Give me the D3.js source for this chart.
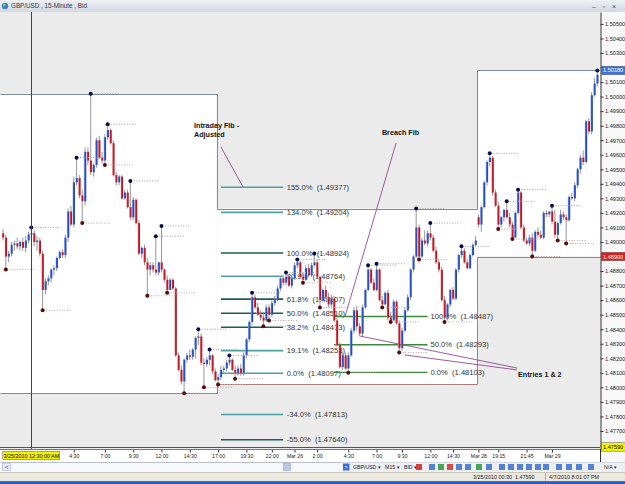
<!DOCTYPE html>
<html>
<head>
<meta charset="utf-8">
<script src="https://cdn.jsdelivr.net/npm/d3@7"></script>
<style>
  body { margin: 0; background: #ffffff; }
  svg { display: block; font-family: "Liberation Sans", Arial, sans-serif; }
</style>
</head>
<body>
<div id="chart"></div>
<script>
// GBP/USD 15-minute bars, bar 0 = 3/24/2010 22:00
const opens = [
  1.4906,1.4903,1.4890,1.4892,1.4898,1.4899,1.4897,1.4900,1.4896,1.4901,
  1.4905,1.4906,1.4900,1.4901,1.4892,1.4867,1.4873,1.4875,1.4881,1.4882,
  1.4889,1.4893,1.4891,1.4903,1.4921,1.4912,1.4941,1.4944,1.4932,1.4928,
  1.4962,1.4956,1.4948,1.4953,1.4970,1.4958,1.4956,1.4972,1.4977,1.4968,
  1.4946,1.4941,1.4945,1.4930,1.4934,1.4924,1.4917,1.4929,1.4913,1.4892,
  1.4896,1.4886,1.4881,1.4884,1.4881,1.4879,1.4886,1.4881,1.4874,1.4867,
  1.4874,1.4868,1.4822,1.4812,1.4804,1.4819,1.4822,1.4821,1.4826,1.4834,
  1.4835,1.4817,1.4816,1.4819,1.4822,1.4811,1.4805,1.4807,1.4812,1.4813,
  1.4817,1.4819,1.4812,1.4810,1.4813,1.4810,1.4822,1.4833,1.4845,1.4862,
  1.4855,1.4850,1.4848,1.4846,1.4855,1.4850,1.4858,1.4860,1.4868,1.4875,
  1.4872,1.4876,1.4870,1.4875,1.4884,1.4886,1.4876,1.4874,1.4882,1.4877,
  1.4884,1.4886,1.4876,1.4860,1.4867,1.4862,1.4857,1.4861,1.4846,1.4829,
  1.4814,1.4822,1.4813,1.4822,1.4839,1.4853,1.4842,1.4837,1.4855,1.4867,
  1.4881,1.4872,1.4867,1.4881,1.4860,1.4857,1.4865,1.4848,1.4846,1.4859,
  1.4844,1.4827,1.4839,1.4853,1.4862,1.4881,1.4890,1.4910,1.4890,1.4901,
  1.4899,1.4906,1.4903,1.4894,1.4886,1.4881,1.4860,1.4848,1.4857,1.4867,
  1.4861,1.4881,1.4891,1.4894,1.4886,1.4882,1.4891,1.4898,1.4917,1.4912,
  1.4924,1.4941,1.4955,1.4958,1.4934,1.4925,1.4912,1.4917,1.4922,1.4917,
  1.4912,1.4903,1.4920,1.4934,1.4910,1.4901,1.4899,1.4903,1.4894,1.4907,
  1.4905,1.4903,1.4920,1.4919,1.4921,1.4914,1.4905,1.4913,1.4919,1.4917,
  1.4915,1.4931,1.4930,1.4939,1.4950,1.4958,1.4955,1.4983,1.4976,1.5001,
  1.5009];
const highs = [
  1.4909,1.4905,1.4894,1.4900,1.4901,1.4903,1.4901,1.4903,1.4904,1.4907,
  1.4910,1.4908,1.4904,1.4903,1.4894,1.4875,1.4877,1.4882,1.4884,1.4890,
  1.4894,1.4895,1.4905,1.4923,1.4925,1.4945,1.4958,1.4946,1.4936,1.4965,
  1.4965,1.5002,1.4954,1.4972,1.4973,1.4962,1.4974,1.4981,1.4978,1.4970,
  1.4948,1.4946,1.4946,1.4936,1.4936,1.4942,1.4931,1.4930,1.4915,1.4897,
  1.4898,1.4889,1.4886,1.4886,1.4904,1.4886,1.4911,1.4882,1.4877,1.4875,
  1.4875,1.4869,1.4824,1.4815,1.4820,1.4824,1.4826,1.4827,1.4835,1.4840,
  1.4837,1.4820,1.4821,1.4826,1.4823,1.4813,1.4809,1.4815,1.4815,1.4819,
  1.4822,1.4820,1.4815,1.4815,1.4816,1.4824,1.4834,1.4846,1.4865,1.4864,
  1.4858,1.4853,1.4852,1.4857,1.4857,1.4860,1.4863,1.4870,1.4876,1.4877,
  1.4879,1.4878,1.4876,1.4886,1.4888,1.4887,1.4879,1.4884,1.4885,1.4886,
  1.4892,1.4888,1.4877,1.4868,1.4870,1.4865,1.4864,1.4863,1.4848,1.4831,
  1.4824,1.4824,1.4824,1.4841,1.4855,1.4856,1.4844,1.4857,1.4868,1.4884,
  1.4882,1.4875,1.4885,1.4882,1.4863,1.4866,1.4867,1.4852,1.4860,1.4860,
  1.4846,1.4841,1.4855,1.4864,1.4882,1.4891,1.4923,1.4912,1.4903,1.4908,
  1.4908,1.4913,1.4905,1.4897,1.4888,1.4883,1.4863,1.4858,1.4868,1.4869,
  1.4882,1.4892,1.4897,1.4896,1.4888,1.4892,1.4899,1.4904,1.4919,1.4925,
  1.4942,1.4956,1.4961,1.4959,1.4936,1.4928,1.4918,1.4923,1.4928,1.4920,
  1.4914,1.4921,1.4936,1.4935,1.4912,1.4903,1.4905,1.4906,1.4908,1.4910,
  1.4908,1.4921,1.4922,1.4921,1.4925,1.4922,1.4914,1.4922,1.4921,1.4919,
  1.4932,1.4934,1.4941,1.4951,1.4960,1.4963,1.4984,1.4985,1.5003,1.5013,
  1.5018];
const lows = [
  1.4901,1.4881,1.4886,1.4890,1.4894,1.4895,1.4894,1.4894,1.4893,1.4899,
  1.4901,1.4897,1.4894,1.4890,1.4853,1.4864,1.4870,1.4872,1.4877,1.4880,
  1.4888,1.4889,1.4889,1.4900,1.4911,1.4910,1.4939,1.4930,1.4913,1.4925,
  1.4953,1.4946,1.4945,1.4951,1.4957,1.4954,1.4953,1.4970,1.4967,1.4945,
  1.4939,1.4939,1.4929,1.4929,1.4923,1.4915,1.4915,1.4912,1.4891,1.4889,
  1.4884,1.4863,1.4877,1.4879,1.4877,1.4877,1.4879,1.4872,1.4865,1.4867,
  1.4867,1.4821,1.4811,1.4802,1.4796,1.4817,1.4819,1.4819,1.4820,1.4829,
  1.4815,1.4800,1.4814,1.4815,1.4809,1.4804,1.4802,1.4805,1.4809,1.4811,
  1.4815,1.4811,1.4806,1.4808,1.4808,1.4808,1.4820,1.4831,1.4843,1.4854,
  1.4849,1.4846,1.4842,1.4845,1.4846,1.4848,1.4856,1.4859,1.4866,1.4870,
  1.4870,1.4869,1.4868,1.4874,1.4882,1.4875,1.4872,1.4873,1.4876,1.4876,
  1.4883,1.4875,1.4855,1.4859,1.4861,1.4855,1.4855,1.4845,1.4828,1.4813,
  1.4812,1.4812,1.4810,1.4821,1.4837,1.4839,1.4835,1.4835,1.4854,1.4866,
  1.4871,1.4866,1.4866,1.4859,1.4855,1.4857,1.4846,1.4845,1.4847,1.4843,
  1.4824,1.4825,1.4838,1.4852,1.4860,1.4879,1.4889,1.4888,1.4889,1.4898,
  1.4897,1.4901,1.4893,1.4885,1.4879,1.4859,1.4845,1.4846,1.4855,1.4860,
  1.4860,1.4879,1.4889,1.4885,1.4881,1.4881,1.4890,1.4897,1.4910,1.4907,
  1.4923,1.4939,1.4952,1.4932,1.4924,1.4909,1.4910,1.4914,1.4916,1.4910,
  1.4902,1.4903,1.4919,1.4909,1.4900,1.4898,1.4897,1.4890,1.4893,1.4903,
  1.4902,1.4902,1.4917,1.4917,1.4912,1.4903,1.4901,1.4912,1.4915,1.4899,
  1.4914,1.4929,1.4928,1.4937,1.4947,1.4953,1.4954,1.4974,1.4974,1.5000,
  1.5007];
const closes = [
  1.4903,1.4890,1.4892,1.4898,1.4899,1.4897,1.4900,1.4896,1.4901,1.4905,
  1.4906,1.4900,1.4901,1.4892,1.4867,1.4873,1.4875,1.4881,1.4882,1.4889,
  1.4893,1.4891,1.4903,1.4921,1.4912,1.4941,1.4944,1.4932,1.4928,1.4962,
  1.4956,1.4948,1.4953,1.4970,1.4958,1.4956,1.4972,1.4977,1.4968,1.4946,
  1.4941,1.4945,1.4930,1.4934,1.4924,1.4917,1.4929,1.4913,1.4892,1.4896,
  1.4886,1.4881,1.4884,1.4881,1.4879,1.4886,1.4881,1.4874,1.4867,1.4874,
  1.4868,1.4822,1.4812,1.4804,1.4819,1.4822,1.4821,1.4826,1.4834,1.4835,
  1.4817,1.4816,1.4819,1.4822,1.4811,1.4805,1.4807,1.4812,1.4813,1.4817,
  1.4819,1.4812,1.4810,1.4813,1.4810,1.4822,1.4833,1.4845,1.4862,1.4855,
  1.4850,1.4848,1.4846,1.4855,1.4850,1.4858,1.4860,1.4868,1.4875,1.4872,
  1.4876,1.4870,1.4875,1.4884,1.4886,1.4876,1.4874,1.4882,1.4877,1.4884,
  1.4886,1.4876,1.4860,1.4867,1.4862,1.4857,1.4861,1.4846,1.4829,1.4814,
  1.4822,1.4813,1.4822,1.4839,1.4853,1.4842,1.4837,1.4855,1.4867,1.4881,
  1.4872,1.4867,1.4881,1.4860,1.4857,1.4865,1.4848,1.4846,1.4859,1.4844,
  1.4827,1.4839,1.4853,1.4862,1.4881,1.4890,1.4910,1.4890,1.4901,1.4899,
  1.4906,1.4903,1.4894,1.4886,1.4881,1.4860,1.4848,1.4857,1.4867,1.4861,
  1.4881,1.4891,1.4894,1.4886,1.4882,1.4891,1.4898,1.4901,1.4912,1.4924,
  1.4941,1.4955,1.4958,1.4934,1.4925,1.4912,1.4917,1.4922,1.4917,1.4912,
  1.4903,1.4920,1.4934,1.4910,1.4901,1.4899,1.4903,1.4894,1.4907,1.4905,
  1.4903,1.4920,1.4919,1.4921,1.4914,1.4905,1.4913,1.4919,1.4917,1.4915,
  1.4931,1.4930,1.4939,1.4950,1.4958,1.4955,1.4983,1.4976,1.5001,1.5009,
  1.5015];

// fractal markers (bar indexes)
const swingHighs = [10,26,31,37,45,54,56,69,73,80,88,100,104,110,129,132,146,151,162,172,178,182,194,210];
const swingLows = [1,14,28,36,51,58,64,71,76,82,92,94,106,112,122,134,137,140,147,156,175,180,187,196,199];

// first bar of each trading day
const sessionStarts = [0, 76, 168];

// intraday fib (adjusted) and breach fib
const fibALevels = ["155.0%","134.0%","100.0%","80.9%","61.8%","50.0%","38.2%","19.1%","0.0%","-34.0%","-55.0%"];
const fibAPrices = [1.49377,1.49204,1.48924,1.48764,1.48607,1.48510,1.48413,1.48253,1.48097,1.47813,1.47640];
const fibBLevels = ["100.0%","50.0%","0.0%"];
const fibBPrices = [1.48487,1.48293,1.48103];

// time axis
const tickIdx = [25,36,46,56,66,76,86,95,103,111,122,132,141,151,159,168,175,185,194];
const tickLabels = ["4:30","7:00","9:30","12:00","14:30","17:00","19:30","22:00","Mar 26","2:00",
                    "4:30","7:00","9:30","12:00","14:30","Mar 28","19:15","21:45","Mar 29"];
const priceTicks = d3.range(0, 30).map(k => +(1.476 + k * 0.001).toFixed(3));
const priceMin = 1.47576, priceMax = 1.50582;

// crosshair
const crossBar = 10, crossPrice = 1.47590;
const crossTime = "3/25/2010 12:30:00 AM";

// text notes, anchored as [bar, price]
const notes = [
  {lines: ["Intraday Fib -", "Adjusted"], at: [67.5, 1.49781], links: [[[77.0, 1.49654], [84.8, 1.49379]]]},
  {lines: ["Breach Fib"], at: [133.9, 1.49736], links: [[[138.9, 1.49681], [120.8, 1.48484]]]},
  {lines: ["Entries 1 & 2"], at: [182, 1.48071], links: [[[181.6, 1.48133], [126.1, 1.48353]], [[181.6, 1.48120], [142.0, 1.48223]]]}
];

const W = 625, H = 484;
const plot = {left: 0, top: 12, right: 600, bottom: 449};

const svg = d3.select("#chart").append("svg").attr("width", W).attr("height", H);
const x = d3.scaleLinear().domain([0, opens.length - 1]).range([3, 597.3]);
const y = d3.scaleLinear().domain([priceMin, priceMax]).range([plot.bottom, plot.top]);
const step = x(1) - x(0);

const defs = svg.append("defs");
defs.append("clipPath").attr("id", "plotClip").append("rect")
  .attr("x", plot.left).attr("y", plot.top)
  .attr("width", plot.right - plot.left).attr("height", plot.bottom - plot.top);

function gradient(id, stops, vertical) {
  const gr = defs.append("linearGradient").attr("id", id)
    .attr("x1", 0).attr("y1", 0).attr("x2", vertical ? 0 : 1).attr("y2", vertical ? 1 : 0);
  stops.forEach(s => gr.append("stop").attr("offset", s[0]).attr("stop-color", s[1]));
}
gradient("upBody", [[0, "#aabef0"], [0.4, "#2c5ad0"], [1, "#1b3fa6"]]);
gradient("downBody", [[0, "#f2b3b8"], [0.4, "#d0202c"], [1, "#a50f19"]]);
gradient("titleBar", [[0, "#eef0f5"], [1, "#d2d7e0"]], true);
gradient("taskBar", [[0, "#3d73d6"], [1, "#2453b3"]], true);

// ---- title bar
svg.append("rect").attr("width", W).attr("height", 12).attr("fill", "url(#titleBar)");
svg.append("circle").attr("cx", 5).attr("cy", 6).attr("r", 3.2).attr("fill", "#3d7fd0");
svg.append("circle").attr("cx", 4.2).attr("cy", 5).attr("r", 1.4).attr("fill", "#79c36a");
svg.append("text").attr("x", 11).attr("y", 8.4).attr("font-size", 6.3).attr("fill", "#333")
  .text("GBP/USD , 15-Minute , Bid");
svg.selectAll("text.win").data(["\u2013", "\u25ab", "\u00d7"]).join("text")
  .attr("x", (d, k) => 594 + k * 10).attr("y", 8.5).attr("font-size", 7).attr("fill", "#555")
  .attr("text-anchor", "middle").text(d => d);

// ---- plot area
const g = svg.append("g").attr("clip-path", "url(#plotClip)");
g.append("rect").attr("x", plot.left).attr("y", plot.top)
  .attr("width", plot.right - plot.left).attr("height", plot.bottom - plot.top).attr("fill", "#ebebeb");

const sessions = sessionStarts.map((s, k) => {
  const e = k + 1 < sessionStarts.length ? sessionStarts[k + 1] : opens.length;
  const idx = d3.range(s, e);
  return {
    x0: k === 0 ? plot.left : x(s) - step / 2,
    x1: e === opens.length ? plot.right : x(e) - step / 2,
    hi: d3.max(idx, i => highs[i]),
    lo: d3.min(idx, i => lows[i])
  };
});

g.selectAll("rect.day").data(sessions).join("rect")
  .attr("x", d => d.x0).attr("y", d => y(d.hi))
  .attr("width", d => d.x1 - d.x0).attr("height", d => y(d.lo) - y(d.hi))
  .attr("fill", "#ffffff");

const edge = key => sessions.flatMap(d => [[Math.round(d.x0) + 0.5, Math.round(y(d[key])) + 0.5], [Math.round(d.x1) + 0.5, Math.round(y(d[key])) + 0.5]]);
g.append("path").attr("d", d3.line()(edge("hi"))).attr("fill", "none").attr("stroke", "#7d8b99");
g.append("path").attr("d", d3.line()(edge("lo"))).attr("fill", "none").attr("stroke", "#aa7d7d");

// ---- fib lines
const fibADark = new Set(["100.0%", "61.8%", "50.0%", "38.2%", "-55.0%"]);
g.selectAll("line.fibA").data(fibAPrices).join("line")
  .attr("x1", x(77)).attr("x2", x(99))
  .attr("y1", d => y(d)).attr("y2", d => y(d))
  .attr("stroke", (d, k) => fibADark.has(fibALevels[k]) ? "#1b5c5c" : "#4aa2a2")
  .attr("stroke-width", 1.6);
g.selectAll("text.fibA").data(fibAPrices).join("text")
  .attr("x", x(99) + 3.5).attr("y", d => y(d) + 2.6)
  .attr("font-size", 7.6).attr("fill", "#333").style("white-space", "pre")
  .text((d, k) => `${fibALevels[k]}  (${d.toFixed(5)})`);

g.selectAll("line.fibB").data(fibBPrices).join("line")
  .attr("x1", x(117)).attr("x2", x(150))
  .attr("y1", d => y(d)).attr("y2", d => y(d))
  .attr("stroke", "#3a8a3a").attr("stroke-width", 1.4);
g.selectAll("text.fibB").data(fibBPrices).join("text")
  .attr("x", x(150) + 3).attr("y", d => y(d) + 2.6)
  .attr("font-size", 7.6).attr("fill", "#333").style("white-space", "pre")
  .text((d, k) => `${fibBLevels[k]}  (${d.toFixed(5)})`);

// ---- candles
const bars = opens.map((o, i) => ({i, o, h: highs[i], l: lows[i], c: closes[i]}));
g.selectAll("line.wick").data(bars).join("line")
  .attr("x1", d => x(d.i)).attr("x2", d => x(d.i))
  .attr("y1", d => y(d.h)).attr("y2", d => y(d.l))
  .attr("stroke", "#8a8a8a").attr("stroke-width", 0.9);
g.selectAll("rect.body").data(bars).join("rect")
  .attr("x", d => x(d.i) - 1.2).attr("width", 2.4)
  .attr("y", d => y(Math.max(d.o, d.c)))
  .attr("height", d => Math.max(1, Math.abs(y(d.o) - y(d.c))))
  .attr("fill", d => d.c >= d.o ? "url(#upBody)" : "url(#downBody)");

// ---- fractal markers with dotted guides
const marks = swingHighs.map(i => ({i, p: highs[i], up: true}))
  .concat(swingLows.map(i => ({i, p: lows[i], up: false})));
g.selectAll("line.guide").data(marks).join("line")
  .attr("x1", d => x(d.i) + 3.5).attr("x2", d => x(d.i + 10))
  .attr("y1", d => y(d.p)).attr("y2", d => y(d.p))
  .attr("stroke", d => d.up ? "#a0a0a8" : "#c8a2a2").attr("stroke-dasharray", "1,1.6");
g.selectAll("circle.mark").data(marks).join("circle")
  .attr("cx", d => x(d.i)).attr("cy", d => y(d.p)).attr("r", 2)
  .attr("fill", d => d.up ? "#0c0c4c" : "#5c0a0a");

// ---- crosshair
g.append("line").attr("x1", Math.round(x(crossBar)) + 0.5).attr("x2", Math.round(x(crossBar)) + 0.5)
  .attr("y1", plot.top).attr("y2", plot.bottom).attr("stroke", "#444");
g.append("line").attr("x1", plot.left).attr("x2", plot.right)
  .attr("y1", Math.round(y(crossPrice)) + 0.5).attr("y2", Math.round(y(crossPrice)) + 0.5).attr("stroke", "#555");

// ---- notes
notes.forEach(n => {
  n.links.forEach(l => g.append("line")
    .attr("x1", x(l[0][0])).attr("y1", y(l[0][1])).attr("x2", x(l[1][0])).attr("y2", y(l[1][1]))
    .attr("stroke", "#8e4c8e").attr("stroke-width", 0.9));
  n.lines.forEach((t, k) => g.append("text")
    .attr("x", x(n.at[0])).attr("y", y(n.at[1]) + k * 8.5)
    .attr("font-size", 7.2).attr("font-weight", "bold").attr("fill", "#111").text(t));
});

// ---- price axis
const last = sessions[sessions.length - 1];
const tags = [
  {p: last.hi, fill: "#3f74d6", color: "#fff"},
  {p: last.lo, fill: "#e01b1b", color: "#fff"},
  {p: crossPrice, fill: "#f4f400", color: "#000"}
];

svg.append("rect").attr("x", plot.right).attr("y", plot.top).attr("width", W - plot.right)
  .attr("height", 462 - plot.top).attr("fill", "#f8f8f8");
const ya = svg.append("g").attr("transform", `translate(${plot.right + 0.5},0)`)
  .call(d3.axisRight(y).tickValues(priceTicks).tickFormat(d3.format(".5f"))
    .tickSize(3).tickSizeOuter(0).tickPadding(1.5));
ya.attr("font-size", 5.6).attr("font-family", "Liberation Sans, Arial, sans-serif");
ya.select(".domain").attr("stroke", "#333");
ya.selectAll("line").attr("stroke", "#333");
ya.selectAll("text").attr("fill", "#222");
// labels under a price tag are hidden, as in the terminal
ya.selectAll(".tick").filter(d => tags.some(t => Math.abs(y(t.p) - y(d)) < 7)).select("text").remove();
svg.append("line").attr("x1", plot.right + 0.5).attr("x2", plot.right + 0.5)
  .attr("y1", plot.bottom).attr("y2", 462).attr("stroke", "#333");

tags.forEach(t => {
  svg.append("rect").attr("x", plot.right + 1.5).attr("y", y(t.p) - 4.2).attr("width", W - plot.right)
    .attr("height", 8.4).attr("fill", t.fill).attr("stroke", "#555").attr("stroke-width", 0.5);
  svg.append("text").attr("x", plot.right + 3).attr("y", y(t.p) + 2).attr("font-size", 5.6)
    .attr("fill", t.color).text(t.p.toFixed(5));
});

// ---- time axis
svg.append("rect").attr("x", 0).attr("y", plot.bottom).attr("width", plot.right).attr("height", 13).attr("fill", "#ffffff");
const xa = svg.append("g").attr("transform", `translate(0,${plot.bottom + 0.5})`)
  .call(d3.axisBottom(x).tickValues(tickIdx).tickFormat((d, k) => tickLabels[k])
    .tickSize(3).tickSizeOuter(0).tickPadding(1.5));
xa.attr("font-size", 5.2).attr("font-family", "Liberation Sans, Arial, sans-serif");
xa.select(".domain").remove();
xa.selectAll("line").attr("stroke", "#333");
xa.selectAll("text").attr("fill", "#222");
svg.append("line").attr("x1", 0).attr("x2", plot.right).attr("y1", plot.bottom + 0.5).attr("y2", plot.bottom + 0.5).attr("stroke", "#777");

svg.append("rect").attr("x", x(crossBar) - 28.5).attr("y", plot.bottom + 2.5).attr("width", 57).attr("height", 8)
  .attr("fill", "#f4f400").attr("stroke", "#555").attr("stroke-width", 0.5);
svg.append("text").attr("x", x(crossBar)).attr("y", plot.bottom + 8.6).attr("text-anchor", "middle")
  .attr("font-size", 5.4).attr("fill", "#000").text(crossTime);

// ---- scroll bar, toolbar, status bar
svg.append("rect").attr("x", 0).attr("y", 462).attr("width", W).attr("height", 10).attr("fill", "#f7f8fb");
svg.append("line").attr("x1", 0).attr("x2", W).attr("y1", 462.5).attr("y2", 462.5).attr("stroke", "#b9bec8");
svg.append("rect").attr("x", 2.5).attr("y", 463.5).attr("width", 8).attr("height", 7).attr("fill", "#e3e9f5").attr("stroke", "#9fb0cc").attr("stroke-width", 0.5);
svg.append("text").attr("x", 6.5).attr("y", 469).attr("text-anchor", "middle").attr("font-size", 6).attr("fill", "#2b4d8c").text("<");
svg.append("rect").attr("x", 283.5).attr("y", 463.5).attr("width", 7).attr("height", 7).attr("fill", "#bccbe6").attr("stroke", "#8199c2").attr("stroke-width", 0.5);

svg.append("rect").attr("x", 342).attr("y", 462.5).attr("width", W - 342).attr("height", 9.5).attr("fill", "#eef0f4");
svg.append("rect").attr("x", 343).attr("y", 463.5).attr("width", 6.5).attr("height", 7).attr("fill", "#3b6ed0");
svg.append("text").attr("x", 346.2).attr("y", 469).attr("text-anchor", "middle").attr("font-size", 5.5).attr("fill", "#fff").text(">");
svg.append("text").attr("x", 353).attr("y", 469.2).attr("font-size", 5.2).attr("fill", "#222").style("white-space", "pre")
  .text("GBP/USD \u25be   M15 \u25be   BID \u25be");
const icons = ["#d02020", "#3b6ed0", "#2a9a3a", "#d03030", "#3b6ed0", "#3b6ed0", "#2a9a3a", "#3b6ed0", "#3b6ed0",
               "#3b6ed0", "#3b6ed0", "#3b6ed0", "#3b6ed0", "#3b6ed0", "#3b6ed0", "#3b6ed0", "#3b6ed0", "#3b6ed0"];
const iconX = [416, 429, 438, 447, 456, 465, 476, 486, 499, 508, 517, 526, 535, 543, 556, 566, 576, 588];
svg.selectAll("rect.icon").data(iconX).join("rect")
  .attr("x", d => d).attr("y", 464).attr("width", 6).attr("height", 6)
  .attr("fill", (d, k) => icons[k]).attr("opacity", 0.85);
svg.append("text").attr("x", 604).attr("y", 469.2).attr("font-size", 5.2).attr("fill", "#222").text("N/A \u25be");

svg.append("rect").attr("x", 0).attr("y", 472).attr("width", W).attr("height", 9).attr("fill", "#ece9e1");
svg.append("line").attr("x1", 0).attr("x2", W).attr("y1", 472.5).attr("y2", 472.5).attr("stroke", "#c8c4b8");
svg.append("text").attr("x", 473).attr("y", 478.8).attr("font-size", 5.4).attr("fill", "#222").style("white-space", "pre")
  .text("3/25/2010 00:30  1.47590");
svg.append("text").attr("x", 549).attr("y", 478.8).attr("font-size", 5.4).attr("fill", "#222").text("4/7/2010 8:01:07 PM");
svg.append("line").attr("x1", 545.5).attr("x2", 545.5).attr("y1", 473).attr("y2", 481).attr("stroke", "#b5b1a5");
svg.append("rect").attr("x", 0).attr("y", 481).attr("width", W).attr("height", 3).attr("fill", "url(#taskBar)");
</script>
</body>
</html>
